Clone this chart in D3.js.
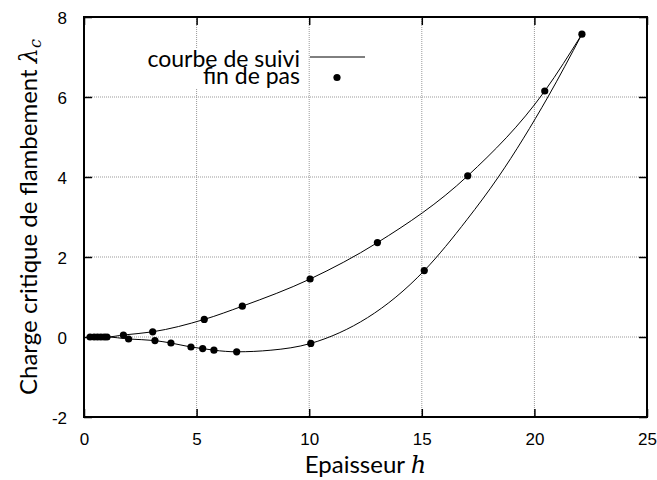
<!DOCTYPE html>
<html>
<head>
<meta charset="utf-8">
<script src="https://cdn.jsdelivr.net/npm/d3@7"></script>
<style>
    body { margin: 0; background: #fff; }
    .tick text { font-family: "Liberation Sans", Arial, sans-serif; }
</style>
</head>
<body>
<div id="chart"></div>
<script>
const margin = {top: 17, right: 10, bottom: 63, left: 84},
    width = 657 - margin.left - margin.right,
    height = 480 - margin.top - margin.bottom;

const xTicks = [0, 5, 10, 15, 20, 25];
const yTicks = [-2, 0, 2, 4, 6, 8];

// courbe de suivi, branche haute
const upperH = [0.27, 1.0, 1.75, 3.05, 5.34, 7.03, 10.04, 13.03, 17.04, 20.46, 22.11];
const upperL = [0, 0, 0.05, 0.13, 0.44, 0.77, 1.45, 2.36, 4.03, 6.15, 7.57];

// courbe de suivi, branche basse
const lowerH = [0.27, 1.0, 1.98, 3.15, 3.86, 4.75, 5.27, 5.77, 6.78, 8.3, 10.07, 15.11, 17.0, 18.4, 20.6, 22.11];
const lowerL = [0, 0, -0.05, -0.09, -0.15, -0.25, -0.29, -0.33, -0.37, -0.33, -0.16, 1.66, 2.93, 4.0, 6.0, 7.57];

// fin de pas
const stepH = [0.27, 0.45, 0.6, 0.75, 0.9, 1.02,
    1.75, 3.05, 5.34, 7.03, 10.04, 13.03, 17.04, 20.46, 22.11,
    1.98, 3.15, 3.86, 4.75, 5.27, 5.77, 6.78, 10.07, 15.11];
const stepL = [0, 0, 0, 0, 0, 0,
    0.05, 0.13, 0.44, 0.77, 1.45, 2.36, 4.03, 6.15, 7.57,
    -0.05, -0.09, -0.15, -0.25, -0.29, -0.33, -0.37, -0.16, 1.66];

const x = d3.scaleLinear().domain([0, 25]).range([0, width]);
const y = d3.scaleLinear().domain([-2, 8]).range([height, 0]);

const svg = d3.select("#chart")
    .append("svg")
    .attr("width", width + margin.left + margin.right)
    .attr("height", height + margin.top + margin.bottom)
    .append("g")
    .attr("transform", "translate(" + margin.left + "," + margin.top + ")");

// grid
svg.selectAll(".gx")
    .data(xTicks.slice(1, -1))
    .enter().append("line")
    .attr("x1", d => x(d)).attr("x2", d => x(d))
    .attr("y1", 0).attr("y2", height)
    .attr("stroke", "#999").attr("stroke-width", 1)
    .attr("stroke-dasharray", "1,1");

svg.selectAll(".gy")
    .data(yTicks.slice(1, -1))
    .enter().append("line")
    .attr("y1", d => y(d)).attr("y2", d => y(d))
    .attr("x1", 0).attr("x2", width)
    .attr("stroke", "#999").attr("stroke-width", 1)
    .attr("stroke-dasharray", "1,1");

// axes, gnuplot style: ticks inside on all sides
const tickLen = 8;
const fmt = d => String(d);
const xAxis = d3.axisBottom(x).tickValues(xTicks).tickSizeInner(-tickLen).tickSizeOuter(0).tickPadding(16).tickFormat(fmt);
const yAxis = d3.axisLeft(y).tickValues(yTicks).tickSizeInner(-tickLen).tickSizeOuter(0).tickPadding(17).tickFormat(fmt);

const gx = svg.append("g").attr("transform", "translate(0," + height + ")").call(xAxis);
const gy = svg.append("g").call(yAxis);
svg.append("g").call(d3.axisTop(x).tickValues(xTicks).tickSizeInner(-tickLen).tickSizeOuter(0).tickFormat(""));
svg.append("g").attr("transform", "translate(" + width + ",0)")
    .call(d3.axisRight(y).tickValues(yTicks).tickSizeInner(-tickLen).tickSizeOuter(0).tickFormat(""));

svg.selectAll(".domain").remove();
svg.selectAll(".tick line").attr("stroke", "#000").attr("stroke-width", 1.5);
gx.selectAll("text").attr("font-size", 17).attr("fill", "#000");
gy.selectAll("text").attr("font-size", 17).attr("fill", "#000").attr("dy", "0.36em");

svg.append("rect")
    .attr("width", width).attr("height", height)
    .attr("fill", "none").attr("stroke", "#000").attr("stroke-width", 2);

// courbes
const line = d3.line()
    .x(d => x(d[0]))
    .y(d => y(d[1]))
    .curve(d3.curveMonotoneX);

[[upperH, upperL], [lowerH, lowerL]].forEach(([hs, ls]) => {
    svg.append("path")
        .datum(hs.map((h, i) => [h, ls[i]]))
        .attr("d", line)
        .attr("fill", "none")
        .attr("stroke", "#000")
        .attr("stroke-width", 1);
});

svg.selectAll(".pt")
    .data(stepH.map((h, i) => [h, stepL[i]]))
    .enter().append("circle")
    .attr("cx", d => x(d[0]))
    .attr("cy", d => y(d[1]))
    .attr("r", 3.6)
    .attr("fill", "#000");

// legend
const titleFont = "Lato, 'Open Sans', sans-serif";
const leg = svg.append("g").attr("transform", "translate(" + (300 - margin.left) + "," + (0 - margin.top) + ")");
leg.append("rect")
    .attr("x", -162).attr("y", 48).attr("width", 170).attr("height", 40)
    .attr("fill", "#fff");
leg.append("text")
    .attr("x", 0).attr("y", 66.5)
    .attr("text-anchor", "end")
    .attr("font-family", titleFont).attr("font-size", 23)
    .text("courbe de suivi");
leg.append("text")
    .attr("x", 0).attr("y", 83.5)
    .attr("text-anchor", "end")
    .attr("font-family", titleFont).attr("font-size", 23)
    .text("fin de pas");
leg.append("line")
    .attr("x1", 10).attr("x2", 65).attr("y1", 57).attr("y2", 57)
    .attr("stroke", "#000").attr("stroke-width", 1);
leg.append("circle")
    .attr("cx", 37).attr("cy", 77.5).attr("r", 3.6).attr("fill", "#000");

// axis titles
const xt = svg.append("text")
    .attr("x", width / 2).attr("y", height + 56)
    .attr("text-anchor", "middle")
    .attr("font-family", titleFont).attr("font-size", 24);
xt.append("tspan").text("Epaisseur ");
xt.append("tspan").attr("font-family", "'DejaVu Serif', serif").attr("font-style", "italic").text("h");

const yt = svg.append("text")
    .attr("transform", "translate(" + (37 - margin.left) + "," + (height / 2) + ") rotate(-90)")
    .attr("text-anchor", "middle")
    .attr("font-family", titleFont).attr("font-size", 24);
yt.append("tspan").text("Charge critique de flambement ");
yt.append("tspan").attr("font-family", "'DejaVu Serif', serif").attr("font-style", "italic").text("λ");
yt.append("tspan").attr("font-family", "'DejaVu Serif', serif").attr("font-style", "italic")
    .attr("font-size", 16).attr("dy", 4).text("c");
</script>
</body>
</html>
